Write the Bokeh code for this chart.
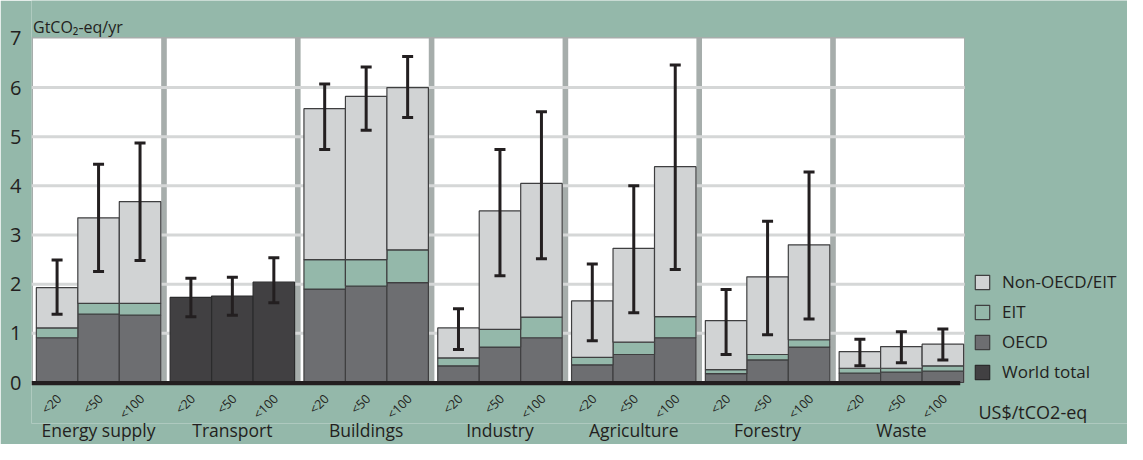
from math import pi
from bokeh.plotting import figure
from bokeh.models import (Range1d, FixedTicker, Legend, LegendItem,
                          ColumnDataSource, Whisker, TeeHead, Label)
from bokeh.core.properties import value
from bokeh.embed import file_html
from bokeh.resources import INLINE

# ---------------- data ----------------
sectors = ["Energy supply", "Transport", "Buildings", "Industry",
           "Agriculture", "Forestry", "Waste"]
prices = ["<20", "<50", "<100"]

# regional split (GtCO2-eq/yr); Transport only has a world total
oecd = [0.91, 1.39, 1.37,  None, None, None,  1.90, 1.96, 2.03,  0.34, 0.72, 0.91,
        0.36, 0.57, 0.91,  0.18, 0.46, 0.72,  0.19, 0.21, 0.23]
eit = [0.20, 0.22, 0.24,  None, None, None,  0.60, 0.54, 0.67,  0.16, 0.36, 0.42,
       0.15, 0.25, 0.43,  0.08, 0.11, 0.15,  0.10, 0.08, 0.11]
non_oecd_eit = [0.82, 1.74, 2.07,  None, None, None,  3.07, 3.32, 3.30,  0.61, 2.41, 2.72,
                1.15, 1.91, 3.05,  1.00, 1.58, 1.93,  0.34, 0.44, 0.44]
world_total = [None, None, None,  1.73, 1.76, 2.04,  None, None, None,  None, None, None,
               None, None, None,  None, None, None,  None, None, None]
err_low = [1.39, 2.26, 2.48,  1.34, 1.37, 1.62,  4.74, 5.13, 5.39,  0.67, 2.17, 2.52,
           0.85, 1.42, 2.30,  0.57, 0.97, 1.29,  0.34, 0.40, 0.46]
err_high = [2.49, 4.44, 4.87,  2.12, 2.14, 2.54,  6.07, 6.42, 6.63,  1.50, 4.74, 5.51,
            2.41, 4.00, 6.46,  1.89, 3.28, 4.28,  0.88, 1.03, 1.09]
y_ticks = [0, 1, 2, 3, 4, 5, 6, 7]
grid_values = [1, 2, 3, 4, 5, 6]
legend_labels = ["Non-OECD/EIT", "EIT", "OECD", "World total"]
y_title = "GtCO\u2082-eq/yr"
unit_title = "US$/tCO2-eq"

# ---------------- style ----------------
TEAL = "#94b8aa"
STRIPE = "#a6adab"
GRID = "#d5d7d7"
LIGHT = "#d1d3d4"
MID = "#6d6e71"
DARK = "#414042"
INK = "#231f20"
EDGE = "#3f3f40"
FONT = "Open Sans"

BAR_W = 0.31
PANEL_W = 0.958
X_LEFT = -0.0112
X_RIGHT = 8.180
AREA_RIGHT = 6.964

n_sec = len(sectors)
n_p = len(prices)
bar_x = [round(i + 0.18 + BAR_W * j, 4) for i in range(n_sec) for j in range(n_p)]
sec_x = [round(i + 0.49, 4) for i in range(n_sec)]

p = figure(width=1127, height=444, output_backend="svg", toolbar_location=None,
           x_range=Range1d(X_LEFT, X_RIGHT), y_range=Range1d(-0.834, 7.771),
           min_border_left=31, min_border_right=0, min_border_top=0, min_border_bottom=0,
           background_fill_color=TEAL, border_fill_color=TEAL, outline_line_color=None)
p.xgrid.visible = False
p.ygrid.visible = False

# backdrop (gray separators) and white panels
p.quad(left=[X_LEFT], right=[AREA_RIGHT], bottom=[0], top=[7.03],
       fill_color=STRIPE, line_color=None)
p.quad(left=[i for i in range(n_sec)], right=[i + PANEL_W for i in range(n_sec)],
       bottom=[0] * n_sec, top=[7] * n_sec, fill_color="white", line_color=None)
p.segment(x0=[X_LEFT] * len(grid_values), x1=[AREA_RIGHT] * len(grid_values),
          y0=grid_values, y1=grid_values, line_color=GRID, line_width=3)

# stacked regional bars
idx = [k for k in range(len(bar_x)) if oecd[k] is not None]
xs = [bar_x[k] for k in idx]
o = [oecd[k] for k in idx]
e_top = [oecd[k] + eit[k] for k in idx]
n_top = [oecd[k] + eit[k] + non_oecd_eit[k] for k in idx]
src = ColumnDataSource(dict(x=xs, o=o, e_top=e_top, n_top=n_top, zero=[0] * len(xs)))
r_oecd = p.vbar(x="x", bottom="zero", top="o", width=BAR_W, source=src,
                fill_color=MID, line_color=EDGE, line_width=1.2)
r_eit = p.vbar(x="x", bottom="o", top="e_top", width=BAR_W, source=src,
               fill_color=TEAL, line_color=EDGE, line_width=1.2)
r_non = p.vbar(x="x", bottom="e_top", top="n_top", width=BAR_W, source=src,
               fill_color=LIGHT, line_color=EDGE, line_width=1.2)

widx = [k for k in range(len(bar_x)) if world_total[k] is not None]
wsrc = ColumnDataSource(dict(x=[bar_x[k] for k in widx],
                             top=[world_total[k] for k in widx],
                             zero=[0] * len(widx)))
r_world = p.vbar(x="x", bottom="zero", top="top", width=BAR_W, source=wsrc,
                 fill_color=DARK, line_color="#2b2b2c", line_width=1.2)

# baseline
p.segment(x0=[X_LEFT], x1=[6.93], y0=[-0.014], y1=[-0.014], line_color=INK, line_width=4.3)

# error bars
esrc = ColumnDataSource(dict(x=bar_x, low=err_low, high=err_high))
wh = Whisker(source=esrc, base="x", lower="low", upper="high",
             line_color=INK, line_width=3, level="annotation",
             upper_head=TeeHead(size=11, line_color=INK, line_width=3),
             lower_head=TeeHead(size=11, line_color=INK, line_width=3))
p.add_layout(wh)

# rotated price labels under each bar
lsrc = ColumnDataSource(dict(x=[bx + 0.015 for bx in bar_x],
                             y=[-0.283] * len(bar_x),
                             t=[prices[k % n_p] for k in range(len(bar_x))]))
p.text(x="x", y="y", text="t", source=lsrc, angle=pi / 4, text_align="right",
       text_baseline="middle", text_font=value(FONT), text_font_size="12.5px",
       text_color=INK)

# y axis
yax = p.yaxis[0]
yax.ticker = FixedTicker(ticks=y_ticks)
yax.axis_line_color = None
yax.major_tick_line_color = None
yax.minor_tick_line_color = None
yax.major_tick_out = 0
yax.major_tick_in = 0
yax.minor_tick_out = 0
yax.major_label_text_font = FONT
yax.major_label_text_font_size = "20px"
yax.major_label_text_color = INK
yax.major_label_standoff = 10

# x axis: sector names
xax = p.xaxis[0]
xax.ticker = FixedTicker(ticks=sec_x)
xax.major_label_overrides = {sec_x[i]: sectors[i] for i in range(n_sec)}
xax.axis_line_color = None
xax.major_tick_line_color = None
xax.minor_tick_line_color = None
xax.major_tick_out = 0
xax.major_tick_in = 0
xax.minor_tick_out = 0
xax.major_label_text_font = FONT
xax.major_label_text_font_size = "17.5px"
xax.major_label_text_color = INK
xax.major_label_standoff = -6

# titles
p.add_layout(Label(x=0, y=7.24, text=y_title, text_font=FONT, text_font_size="16px",
                   text_color=INK, text_baseline="alphabetic", text_align="left"))
p.add_layout(Label(x=7.066, y=-0.61, text=unit_title, text_font=FONT,
                   text_font_size="18px", text_color=INK, text_baseline="middle",
                   text_align="left"))

# legend
legend = Legend(items=[LegendItem(label=legend_labels[0], renderers=[r_non]),
                       LegendItem(label=legend_labels[1], renderers=[r_eit]),
                       LegendItem(label=legend_labels[2], renderers=[r_oecd]),
                       LegendItem(label=legend_labels[3], renderers=[r_world])],
                location=(942, 40), glyph_width=18, glyph_height=18,
                label_text_font=FONT, label_text_font_size="17px", label_text_color=INK,
                label_standoff=11, spacing=7, padding=0, margin=0,
                background_fill_alpha=0, border_line_alpha=0, label_height=18)
p.add_layout(legend)

open("out.html", "w").write(file_html(p, INLINE))
